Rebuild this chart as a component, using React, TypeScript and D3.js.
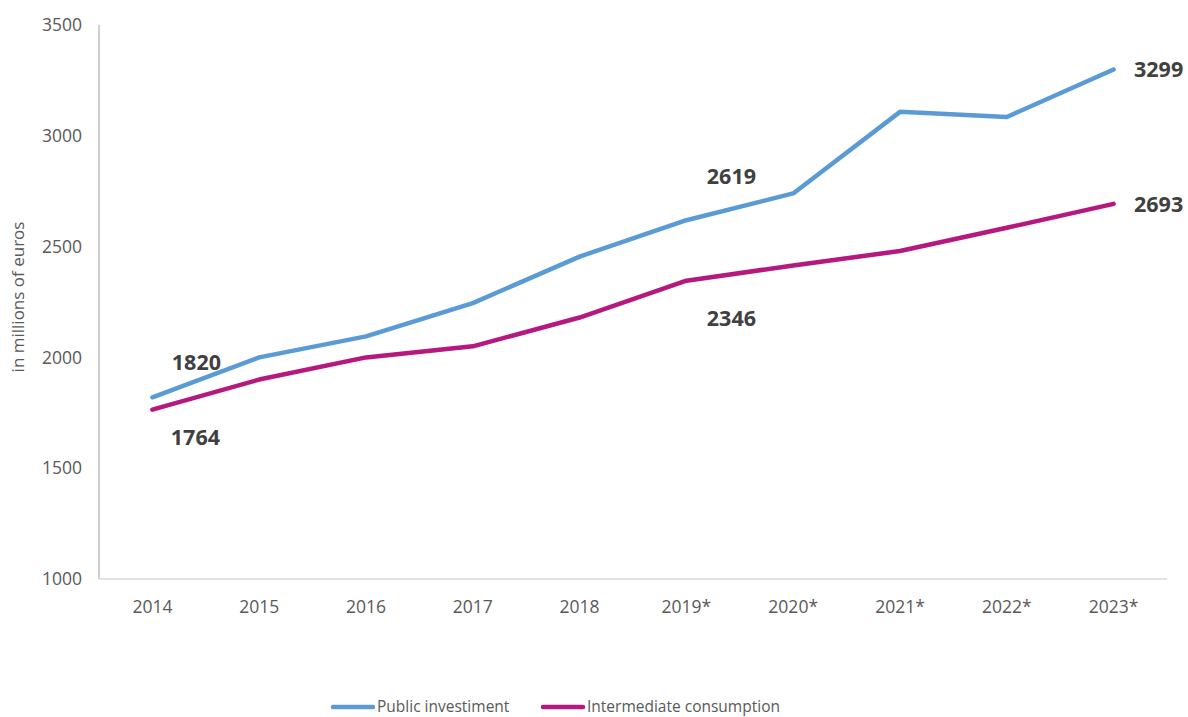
import React from "react";
import * as d3 from "d3";

const categories = ["2014", "2015", "2016", "2017", "2018", "2019*", "2020*", "2021*", "2022*", "2023*"];
const publicInvestment = [1820, 2000, 2095, 2245, 2455, 2619, 2740, 3108, 3085, 3299];
const intermediateConsumption = [1764, 1900, 2000, 2050, 2180, 2346, 2415, 2480, 2585, 2693];
const yTicks = [1000, 1500, 2000, 2500, 3000, 3500];
const seriesNames = ["Public investiment", "Intermediate consumption"];
const seriesColors = ["#5B9BD5", "#B5197F"];
// labels: [series index, category index, dx, dy]
const labelSpecs: [number, number, number, number][] = [
  [0, 0, 44, -35],
  [1, 0, 43, 28],
  [0, 5, 45, -44],
  [1, 5, 45, 38],
  [0, 9, 45, 0],
  [1, 9, 45, 1],
];

export default function App() {
  const W = 1188, H = 717;
  const left = 99, right = 1167, top = 25, bottom = 579;
  const x = d3.scaleBand<string>().domain(categories).range([left, right]).padding(0);
  const y = d3.scaleLinear().domain([1000, 3500]).range([bottom, top]);
  const cx = (c: string) => (x(c) as number) + x.bandwidth() / 2;
  const all = [publicInvestment, intermediateConsumption];
  const line = d3.line<number>().x((_, i) => cx(categories[i])).y((v) => y(v));
  const font = "'Open Sans', 'Noto Sans', sans-serif";
  return (
    <svg width={W} height={H} style={{ position: "absolute", left: 0, top: 0, background: "#fff" }}>
      <style>{`body{margin:0}`}</style>
      <line x1={left} x2={left} y1={top} y2={bottom} stroke="#BFBFBF" strokeWidth={1.5} />
      <line x1={left} x2={right} y1={bottom} y2={bottom} stroke="#D9D9D9" strokeWidth={1.5} />
      {yTicks.map((t) => (
        <text key={t} x={82} y={y(t)} dy="0.35em" textAnchor="end" fontFamily={font} fontSize={17.5} fill="#595959">{t}</text>
      ))}
      {categories.map((c) => (
        <text key={c} x={cx(c)} y={607} dy="0.35em" textAnchor="middle" fontFamily={font} fontSize={17.5} fill="#595959">{c}</text>
      ))}
      <text transform={`translate(18,297) rotate(-90)`} textAnchor="middle" dy="0.35em" fontFamily={font} fontSize={17} fill="#595959">in millions of euros</text>
      {all.map((s, i) => (
        <path key={i} d={line(s) as string} fill="none" stroke={seriesColors[i]} strokeWidth={4.5} strokeLinejoin="round" strokeLinecap="round" />
      ))}
      {labelSpecs.map(([si, ci, dx, dy], k) => (
        <text key={k} x={cx(categories[ci]) + dx} y={y(all[si][ci]) + dy} dy="0.35em" textAnchor="middle" fontFamily={font} fontSize={21.5} fontWeight="bold" fill="#404040">{all[si][ci]}</text>
      ))}
      {seriesNames.map((n, i) => {
        const lx = i === 0 ? 333 : 543;
        return (
          <g key={n}>
            <line x1={lx} x2={lx + 40} y1={707} y2={707} stroke={seriesColors[i]} strokeWidth={4.5} strokeLinecap="round" />
            <text x={lx + 44} y={707} dy="0.35em" fontFamily={font} fontSize={15.5} fill="#595959">{n}</text>
          </g>
        );
      })}
    </svg>
  );
}
